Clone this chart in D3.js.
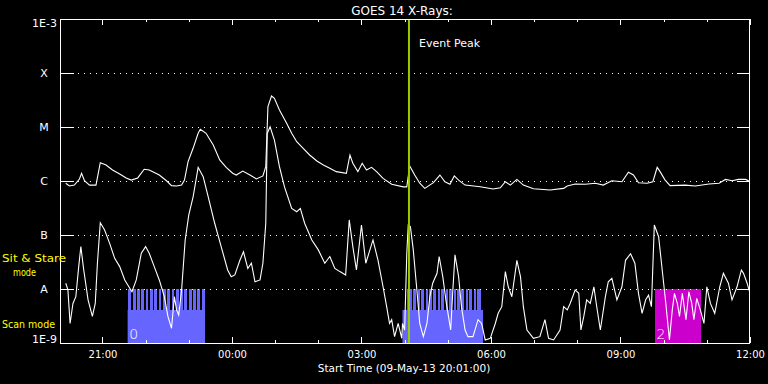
<!DOCTYPE html>
<html><head><meta charset="utf-8">
<script src="https://cdn.jsdelivr.net/npm/d3@7"></script>
<style>
html,body{margin:0;padding:0;background:#000;}
svg{display:block;}
text{font-family:"DejaVu Sans",sans-serif;}
</style></head>
<body>
<svg id="chart" width="768" height="384"></svg>
<script>
// ---------------- DATA ----------------
const chartTitle = "GOES 14 X-Rays:";
const xAxisTitle = "Start Time (09-May-13 20:01:00)";
const startDay = [2013, 4, 9];           // 09-May-13
const timeDomain = ["20:01", "12:00"];
const majorTickLabels = ["21:00", "00:00", "03:00", "06:00", "09:00", "12:00"];
const yTickValues = [1e-9, 1e-8, 1e-7, 1e-6, 1e-5, 1e-4, 1e-3];
const yTickLabels = ["1E-9", "A", "B", "C", "M", "X", "1E-3"];
const eventPeakTime = "04:06";
const eventPeakLabel = "Event Peak";

// long channel (1-8 A), [time, W/m^2]
const longChannel = [
["20:09",9.1e-7],["20:14",8.1e-7],["20:21",8.4e-7],["20:28",1.09e-6],["20:31",1.39e-6],["20:35",1.01e-6],
["20:42",8.4e-7],["20:51",8.4e-7],["20:57",2.18e-6],["21:05",1.98e-6],["21:14",1.6e-6],["21:24",1.35e-6],
["21:33",1.14e-6],["21:40",1.04e-6],["21:49",1.14e-6],["21:58",1.65e-6],["22:05",1.6e-6],["22:19",1.29e-6],
["22:29",1.01e-6],["22:36",8.2e-7],["22:43",8.1e-7],["22:50",8.4e-7],["22:54",1.04e-6],["22:59",2.28e-6],
["23:06",4.03e-6],["23:13",7.64e-6],["23:16",9.06e-6],["23:24",7.64e-6],["23:34",4.64e-6],["23:43",2.45e-6],
["23:52",1.79e-6],["00:01",1.39e-6],["00:06",1.29e-6],["00:15",1.53e-6],["00:25",1.29e-6],["00:34",1.09e-6],
["00:43",1.24e-6],["00:47",1.84e-6],["00:50",2.38e-5],["00:55",3.75e-5],["00:59",3.4e-5],["01:06",2.07e-5],
["01:16",1.17e-5],["01:23",7.64e-6],["01:30",5.35e-6],["01:39",4.03e-6],["01:48",3.03e-6],["01:58",2.35e-6],
["02:07",1.98e-6],["02:16",1.72e-6],["02:25",1.49e-6],["02:39",1.39e-6],["02:44",3.03e-6],["02:48",2.13e-6],
["02:55",1.49e-6],["03:01",2.13e-6],["03:07",1.6e-6],["03:14",1.79e-6],["03:21",1.49e-6],["03:30",1.12e-6],
["03:42",8.7e-7],["03:58",7.8e-7],["04:03",7.8e-7],["04:07",1.9e-6],["04:14",1.29e-6],["04:21",9.1e-7],
["04:28",7.3e-7],["04:40",9.3e-7],["04:49",1.29e-6],["04:56",9.7e-7],["05:03",8.7e-7],["05:09",1.24e-6],
["05:15",1.04e-6],["05:24",8.4e-7],["05:45",7.8e-7],["06:03",7.1e-7],["06:13",7.5e-7],["06:20",9.7e-7],
["06:27",8.4e-7],["06:36",1.07e-6],["06:45",8.4e-7],["06:59",7.2e-7],["07:22",6.8e-7],["07:41",7.3e-7],
["07:46",8.1e-7],["07:57",8.8e-7],["08:11",8.7e-7],["08:25",9.1e-7],["08:36",8.4e-7],["08:48",1.01e-6],
["09:02",9.7e-7],["09:11",1.45e-6],["09:18",1.29e-6],["09:25",9.3e-7],["09:37",9.1e-7],["09:45",9.7e-7],
["09:51",1.79e-6],["09:55",1.49e-6],["10:02",1.04e-6],["10:09",8.2e-7],["10:30",8.4e-7],["10:44",8.1e-7],
["11:03",8.8e-7],["11:17",9.1e-7],["11:26",1.07e-6],["11:35",1.01e-6],["11:44",1.07e-6],["11:54",1.07e-6],
["12:00",9.7e-7]
];

// short channel (0.5-4 A), [time, W/m^2]
const shortChannel = [
["20:09",1.28e-8],["20:12",9.6e-9],["20:15",2.3e-9],["20:19",5.4e-9],["20:23",7.2e-9],["20:27",2.6e-8],
["20:30",6.1e-8],["20:34",2.25e-8],["20:40",6.3e-9],["20:46",3.1e-9],["20:50",5.4e-9],["20:53",3.0e-8],
["20:57",1.69e-7],["21:03",1.24e-7],["21:10",7.0e-8],["21:17",3.7e-8],["21:24",2.6e-8],["21:31",1.47e-8],
["21:38",1.03e-8],["21:41",8.9e-9],["21:47",1.47e-8],["21:54",4.6e-8],["22:00",6.1e-8],["22:05",4.6e-8],
["22:12",2.6e-8],["22:19",1.47e-8],["22:26",7.2e-9],["22:31",3.1e-9],["22:36",1.87e-9],["22:40",7.2e-9],
["22:43",4.1e-9],["22:46",3.3e-9],["22:50",9.6e-9],["22:55",8.1e-8],["23:00",2.35e-7],["23:06",5.1e-7],
["23:13",1.79e-6],["23:20",1.2e-6],["23:27",5.1e-7],["23:36",1.65e-7],["23:45",6.1e-8],["23:54",2.25e-8],
["23:59",1.69e-8],["00:04",1.82e-8],["00:11",3.4e-8],["00:16",4.9e-8],["00:22",2.4e-8],["00:27",3.0e-8],
["00:32",1.36e-8],["00:39",1.47e-8],["00:43",3.0e-8],["00:47",1.65e-7],["00:49",7.6e-6],["00:53",1.01e-5],
["00:59",5.7e-6],["01:06",1.84e-6],["01:13",7.8e-7],["01:23",3.1e-7],["01:30",2.7e-7],["01:35",3.1e-7],
["01:41",1.65e-7],["01:51",8.1e-8],["02:00",5.3e-8],["02:09",3.0e-8],["02:16",4.0e-8],["02:23",2.4e-8],
["02:30",2.1e-8],["02:38",1.82e-8],["02:43",1.9e-7],["02:48",6.1e-8],["02:53",2.25e-8],["03:00",1.53e-7],
["03:06",3.0e-8],["03:16",8.1e-8],["03:23",3.4e-8],["03:30",1.1e-8],["03:35",4.7e-9],["03:39",2.3e-9],
["03:42",2.7e-9],["03:46",1.31e-9],["03:51",2.3e-9],["03:56",1.22e-9],["03:57",2.3e-9],["04:00",1.74e-9],
["04:03",4.6e-8],["04:05",1.53e-7],["04:08",1.43e-7],["04:12",5.3e-8],["04:17",9.6e-9],["04:21",2.3e-9],
["04:26",1.31e-9],["04:31",2.3e-9],["04:35",7.2e-9],["04:39",1.28e-8],["04:45",1.95e-8],["04:48",4.0e-8],
["04:53",1.69e-8],["04:58",5.4e-9],["05:04",1.74e-9],["05:07",9.6e-9],["05:10",4.3e-8],["05:15",1.69e-8],
["05:19",4.7e-9],["05:24",1.74e-9],["05:28",1.31e-9],["05:35",1.31e-9],["05:42",2.7e-9],["05:47",2.3e-9],
["05:52",1.14e-9],["05:59",1.22e-9],["06:06",2.3e-9],["06:10",3.55e-9],["06:15",4.7e-9],["06:20",2.1e-8],
["06:24",1.1e-8],["06:29",7.2e-9],["06:36",3.4e-8],["06:41",1.69e-8],["06:45",4.7e-9],["06:50",1.74e-9],
["06:59",1.22e-9],["07:08",1.31e-9],["07:15",2.7e-9],["07:20",1.22e-9],["07:27",1.14e-9],["07:36",1.74e-9],
["07:41",4.7e-9],["07:46",4.1e-9],["07:50",5.4e-9],["07:57",9.6e-9],["08:02",8.3e-9],["08:05",1.74e-9],
["08:09",3.1e-9],["08:13",6.3e-9],["08:18",5.4e-9],["08:23",1.1e-8],["08:27",4.7e-9],["08:32",1.74e-9],
["08:39",7.2e-9],["08:43",1.36e-8],["08:48",1.58e-8],["08:55",6.3e-9],["09:02",1.1e-8],["09:07",3.4e-8],
["09:14",4.5e-8],["09:20",3.0e-8],["09:25",8.3e-9],["09:30",3.55e-9],["09:35",6.3e-9],["09:39",7.7e-9],
["09:43",4.7e-9],["09:47",1.53e-7],["09:53",9.3e-8],["09:59",1.69e-8],["10:03",5.4e-9],["10:08",1.14e-9],
["10:12",4.1e-9],["10:15",8.3e-9],["10:19",5.4e-9],["10:22",3.1e-9],["10:26",8.3e-9],["10:31",2.7e-9],
["10:35",8.9e-9],["10:39",5.4e-9],["10:42",2.7e-9],["10:46",6.7e-9],["10:51",4.1e-9],["10:56",2.3e-9],
["11:00",1.1e-8],["11:05",5.4e-9],["11:11",3.55e-9],["11:18",1.1e-8],["11:23",1.95e-8],["11:30",1.28e-8],
["11:35",6.3e-9],["11:42",1.1e-8],["11:48",2.25e-8],["11:51",1.95e-8],["11:56",1.28e-8],["12:00",8.3e-9]
];

// instrument mode timeline
const modeLabels = ["Sit & Stare", "mode", "Scan mode"];
const modeLevels = {stare: 1e-8, scan: 4.1e-9};
const scanIntervals  = [["21:35","23:22"], ["03:57","05:49"]];
const stareIntervals = [["21:35","23:22"], ["04:03","05:46"]];
const scanGapMinutes = 2;
const scanGaps = ["21:41","21:47","21:53","21:59","22:05","22:11","22:17","22:23","22:29","22:35","22:41",
  "22:47","22:53","22:59","23:05","23:11","23:17",
  "04:11","04:17","04:22","04:28","04:33","04:39","04:45","04:50","04:56","05:01","05:07","05:12",
  "05:18","05:24","05:29","05:35","05:40"];
const otherPointing = [["09:48","10:52"]];
const pointingLabels = [["21:35","0"], ["09:48","2"]];

// ---------------- CHART ----------------
const W = 768, H = 384;
const L = 60, R = 750, T = 19, B = 343;
const svg = d3.select("#chart");
svg.append("rect").attr("width", W).attr("height", H).attr("fill", "#000");

function parseT(s) {
  const [h, m] = s.split(":").map(Number);
  const d = new Date(startDay[0], startDay[1], startDay[2], h, m);
  if (h < 20) d.setDate(d.getDate() + 1);
  return d;
}
const x = d3.scaleTime().domain(timeDomain.map(parseT)).range([L, R]);
const y = d3.scaleLog().domain([1e-9, 1e-3]).range([B, T]);

const defs = svg.append("defs");
defs.append("clipPath").attr("id", "plot").append("rect")
  .attr("x", L).attr("y", T).attr("width", R - L).attr("height", B - T);

const g = svg.append("g").attr("clip-path", "url(#plot)");

// mode blocks
const blue = "#6666ff", magenta = "#cc00cc";
g.selectAll("rect.scan").data(scanIntervals).join("rect")
  .attr("x", d => x(parseT(d[0]))).attr("width", d => x(parseT(d[1])) - x(parseT(d[0])))
  .attr("y", y(modeLevels.scan)).attr("height", B - y(modeLevels.scan)).attr("fill", blue);

// stare segments split by scan gaps
const stareSegs = [];
stareIntervals.forEach(([s, e]) => {
  const s0 = parseT(s), e0 = parseT(e);
  const gaps = scanGaps.map(parseT).filter(t => t > s0 && t < e0).sort((a, b) => a - b);
  let cur = s0;
  gaps.forEach(t => {
    const gs = new Date(+t - scanGapMinutes * 30000), ge = new Date(+t + scanGapMinutes * 30000);
    stareSegs.push([cur, gs]); cur = ge;
  });
  stareSegs.push([cur, e0]);
});
g.selectAll("rect.stare").data(stareSegs).join("rect")
  .attr("x", d => x(d[0])).attr("width", d => x(d[1]) - x(d[0]))
  .attr("y", y(modeLevels.stare)).attr("height", B - y(modeLevels.stare)).attr("fill", blue)
  .attr("shape-rendering", "crispEdges");
g.selectAll("rect.other").data(otherPointing).join("rect")
  .attr("x", d => x(parseT(d[0]))).attr("width", d => x(parseT(d[1])) - x(parseT(d[0])))
  .attr("y", y(modeLevels.stare)).attr("height", B - y(modeLevels.stare)).attr("fill", magenta);

// dotted grid
const gridVals = yTickValues.slice(1, -1);
g.selectAll("line.grid").data(gridVals).join("line")
  .attr("x1", L + 18).attr("x2", R - 13)
  .attr("y1", d => Math.round(y(d)) + 0.5).attr("y2", d => Math.round(y(d)) + 0.5)
  .attr("stroke", "#fff").attr("stroke-width", 1).attr("stroke-dasharray", "1,5");

// curves
const line = d3.line().x(d => x(parseT(d[0]))).y(d => y(Math.max(d[1], 1e-9)));
[longChannel, shortChannel].forEach(data => {
  g.append("path").datum(data).attr("d", line)
    .attr("fill", "none").attr("stroke", "#fff").attr("stroke-width", 1.1);
});

// pointing labels
g.selectAll("text.pt").data(pointingLabels).join("text")
  .attr("x", d => x(parseT(d[0])) + 1.5).attr("y", B - 4)
  .attr("fill", "#fff").attr("font-size", 14).attr("font-weight", 200).text(d => d[1]);

// axes
const ax = svg.append("g").attr("shape-rendering", "crispEdges");
const noLab = () => "";
const major = d3.timeHour.every(3), minor = d3.timeHour.every(1);
function styleAxis(sel) {
  sel.select(".domain").remove();
  sel.selectAll("line").attr("stroke", "#fff");
  sel.selectAll("text").attr("fill", "#fff").attr("font-family", "DejaVu Sans");
}
ax.append("g").attr("transform", `translate(0,${B})`)
  .call(d3.axisBottom(x).ticks(minor).tickSize(-3).tickFormat(noLab)).call(styleAxis);
ax.append("g").attr("transform", `translate(0,${B})`)
  .call(d3.axisBottom(x).ticks(major).tickSize(-6).tickPadding(8)
    .tickFormat((d, i) => majorTickLabels[i] !== undefined ? majorTickLabels[i] : ""))
  .call(styleAxis).selectAll("text").attr("font-size", 10);
ax.append("g").attr("transform", `translate(0,${T})`)
  .call(d3.axisTop(x).ticks(minor).tickSize(-3).tickFormat(noLab)).call(styleAxis);
ax.append("g").attr("transform", `translate(0,${T})`)
  .call(d3.axisTop(x).ticks(major).tickSize(-6).tickFormat(noLab)).call(styleAxis);
ax.append("g").attr("transform", `translate(${L},0)`)
  .call(d3.axisLeft(y).tickValues(gridVals).tickSize(-14).tickFormat(noLab)).call(styleAxis);
ax.append("g").attr("transform", `translate(${R},0)`)
  .call(d3.axisRight(y).tickValues(gridVals).tickSize(-13).tickFormat(noLab)).call(styleAxis);
ax.append("rect").attr("x", L + 0.5).attr("y", T + 0.5).attr("width", R - L - 1).attr("height", B - T)
  .attr("fill", "none").attr("stroke", "#fff").attr("stroke-width", 1);

// y labels
const last = yTickValues.length - 1;
svg.selectAll("text.ylab").data(yTickValues).join("text")
  .attr("fill", "#fff").attr("font-size", 11)
  .attr("x", (d, i) => (i === 0 || i === last) ? L - 3 : 44)
  .attr("y", (d, i) => i === 0 ? y(d) : i === last ? y(d) + 8 : y(d))
  .attr("dy", (d, i) => (i === 0 || i === last) ? "0" : "0.36em")
  .attr("text-anchor", (d, i) => (i === 0 || i === last) ? "end" : "middle")
  .text((d, i) => yTickLabels[i]);

// mode labels (yellow)
const yellow = "#ffff00";
svg.append("text").attr("x", 2).attr("y", 262).attr("fill", yellow).attr("font-size", 11)
  .attr("textLength", 64).attr("lengthAdjust", "spacingAndGlyphs").text(modeLabels[0]);
svg.append("text").attr("x", 13).attr("y", 276).attr("fill", yellow).attr("font-size", 10)
  .attr("textLength", 23).attr("lengthAdjust", "spacingAndGlyphs").text(modeLabels[1]);
svg.append("text").attr("x", 2).attr("y", 328).attr("fill", yellow).attr("font-size", 11)
  .attr("textLength", 53).attr("lengthAdjust", "spacingAndGlyphs").text(modeLabels[2]);

// event peak
const xp = x(parseT(eventPeakTime));
svg.append("line").attr("x1", xp).attr("x2", xp).attr("y1", T + 1).attr("y2", B)
  .attr("stroke", "#99cc00").attr("stroke-width", 2);
svg.append("text").attr("x", xp + 10).attr("y", 47).attr("fill", "#fff").attr("font-size", 11)
  .text(eventPeakLabel);

// titles
svg.append("text").attr("x", 402).attr("y", 15).attr("text-anchor", "middle").attr("fill", "#fff")
  .attr("font-size", 12).text(chartTitle);
svg.append("text").attr("x", 404).attr("y", 372).attr("text-anchor", "middle").attr("fill", "#fff")
  .attr("font-size", 10.5).text(xAxisTitle);
</script>
</body></html>
